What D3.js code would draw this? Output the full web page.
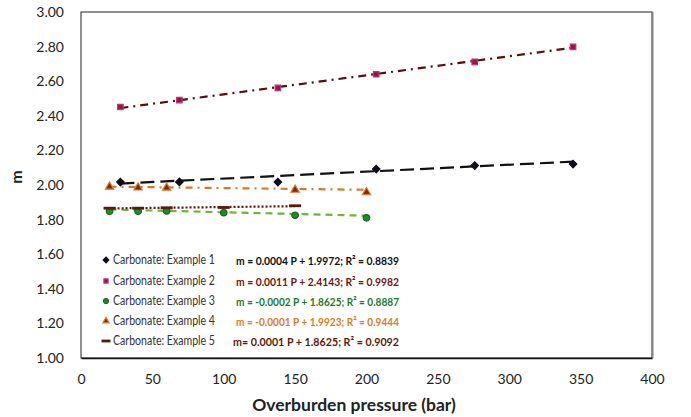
<!DOCTYPE html>
<html>
<head>
<meta charset="utf-8">
<script src="https://cdn.jsdelivr.net/npm/d3@7"></script>
<style>
	body { margin: 0; background: white; }
	text { font-family: Lato, "Open Sans", sans-serif; }
</style>
</head>
<body>
<div id="chart"></div>
<script>
	// values
	const seriesNames = ["Carbonate: Example 1", "Carbonate: Example 2", "Carbonate: Example 3", "Carbonate: Example 4", "Carbonate: Example 5"];
	const pressure1 = [27.6, 68.9, 137.9, 206.8, 275.8, 344.7];
	const m1 = [2.017, 2.018, 2.017, 2.092, 2.112, 2.121];
	const pressure2 = [27.6, 68.9, 137.9, 206.8, 275.8, 344.7];
	const m2 = [2.451, 2.491, 2.561, 2.640, 2.712, 2.798];
	const pressure3 = [20, 40, 60, 100, 150, 200];
	const m3 = [1.848, 1.848, 1.850, 1.840, 1.825, 1.810];
	const pressure4 = [20, 40, 60, 150, 200];
	const m4 = [1.990, 1.985, 1.984, 1.972, 1.958];
	const pressure5 = [20, 40, 60, 100, 150];
	const m5 = [1.866, 1.866, 1.868, 1.870, 1.880];
	const slopes = [0.0004, 0.0011, -0.0002, -0.0001, 0.0001];
	const intercepts = [1.9972, 2.4143, 1.8625, 1.9923, 1.8625];
	const equations = [
		"m = 0.0004 P + 1.9972; R\u00b2 = 0.8839",
		"m = 0.0011 P + 2.4143; R\u00b2 = 0.9982",
		"m = -0.0002 P + 1.8625; R\u00b2 = 0.8887",
		"m = -0.0001 P + 1.9923; R\u00b2 = 0.9444",
		"m= 0.0001 P + 1.8625; R\u00b2 = 0.9092"
	];
	const xTicks = [0, 50, 100, 150, 200, 250, 300, 350, 400];
	const yTicks = [1.0, 1.2, 1.4, 1.6, 1.8, 2.0, 2.2, 2.4, 2.6, 2.8, 3.0];

	const pressures = [pressure1, pressure2, pressure3, pressure4, pressure5];
	const ms = [m1, m2, m3, m4, m5];

	const styles = [
		{ marker: "diamond", fill: "#0d0d1f", stroke: "#0d0d1f", line: "#111111", dash: "14,6", eq: "#111111" },
		{ marker: "square", fill: "#8c1c3c", stroke: "#c2307e", line: "#5a0c0c", dash: "8,5,2,5", eq: "#6e1414" },
		{ marker: "circle", fill: "#1e8a2a", stroke: "#176a20", line: "#6fb43c", dash: "7,5", eq: "#1f7a2a" },
		{ marker: "triangle", fill: "#7a2a08", stroke: "#e07b28", line: "#d9782d", dash: "7,5,2,5", eq: "#e07b28" },
		{ marker: "dash", fill: "#5a1a0a", stroke: "#5a1a0a", line: "#5a1a0a", dash: "2,2", eq: "#5a1a0a" }
	];
	const eqWidths = [163, 163, 163, 163, 166];

	const width = 691, height = 417;
	const margin = { top: 12, right: 39, bottom: 59, left: 81 };
	const innerW = width - margin.left - margin.right,
		innerH = height - margin.top - margin.bottom;

	const svg = d3.select("#chart")
		.append("svg")
		.attr("width", width)
		.attr("height", height);

	const x = d3.scaleLinear().domain([0, 400]).range([0, innerW]);
	const y = d3.scaleLinear().domain([1, 3]).range([innerH, 0]);

	const g = svg.append("g")
		.attr("transform", `translate(${margin.left},${margin.top})`);

	// plot area frame
	g.append("rect")
		.attr("width", innerW)
		.attr("height", innerH)
		.attr("fill", "white")
		.attr("stroke", "#222")
		.attr("stroke-width", 1);
	g.append("line")
		.attr("x1", innerW + 0.5).attr("x2", innerW + 0.5)
		.attr("y1", 0).attr("y2", innerH)
		.attr("stroke", "#888")
		.attr("stroke-width", 2);

	const xAxis = g.append("g")
		.attr("transform", `translate(0,${innerH})`)
		.call(d3.axisBottom(x).tickValues(xTicks).tickSize(0).tickPadding(16).tickFormat(d3.format("d")));
	xAxis.select(".domain").attr("stroke", "#111").attr("stroke-width", 1.5);
	xAxis.selectAll("text").attr("font-size", 14).attr("fill", "#222").style("font-family", "Lato, sans-serif");

	const yAxis = g.append("g")
		.call(d3.axisLeft(y).tickValues(yTicks).tickSize(0).tickPadding(17).tickFormat(d3.format(".2f")));
	yAxis.select(".domain").remove();
	yAxis.selectAll("text").attr("font-size", 14).attr("fill", "#222").style("font-family", "Lato, sans-serif");

	svg.append("text")
		.attr("x", 354)
		.attr("y", 411)
		.attr("text-anchor", "middle")
		.attr("font-size", 17.5)
		.attr("font-weight", "bold")
		.attr("fill", "#222")
		.text("Overburden pressure (bar)");

	svg.append("text")
		.attr("transform", "translate(22,177) rotate(-90)")
		.attr("text-anchor", "middle")
		.attr("font-size", 16)
		.attr("font-weight", "bold")
		.attr("fill", "#222")
		.text("m");

	function drawMarker(sel, type, st, k) {
		if (type == "dash") {
			sel.append("rect")
				.attr("x", -6 * k).attr("y", -1.4)
				.attr("width", 12 * k).attr("height", 2.8)
				.attr("fill", st.fill);
			return;
		}
		let path;
		if (type == "diamond") path = d3.symbol().type(d3.symbolSquare).size(28 * k * k);
		if (type == "square") path = d3.symbol().type(d3.symbolSquare).size(30 * k * k);
		if (type == "circle") path = d3.symbol().type(d3.symbolCircle).size(34 * k * k);
		if (type == "triangle") path = d3.symbol().type(d3.symbolTriangle).size(30 * k * k);
		sel.append("path")
			.attr("d", path)
			.attr("transform", type == "diamond" ? "rotate(45)" : null)
			.attr("fill", st.fill)
			.attr("stroke", st.stroke)
			.attr("stroke-width", 1.2);
	}

	// trendlines
	for (let i = 0; i < 5; i++) {
		const ext = d3.extent(pressures[i]);
		g.append("line")
			.attr("x1", x(ext[0]))
			.attr("x2", x(ext[1]))
			.attr("y1", y(slopes[i] * ext[0] + intercepts[i]))
			.attr("y2", y(slopes[i] * ext[1] + intercepts[i]))
			.attr("stroke", styles[i].line)
			.attr("stroke-width", 2.2)
			.attr("stroke-dasharray", styles[i].dash);
	}

	// points
	for (let i = 0; i < 5; i++) {
		pressures[i].forEach((p, j) => {
			const mk = g.append("g")
				.attr("transform", `translate(${x(p)},${y(ms[i][j])})`);
			drawMarker(mk, styles[i].marker, styles[i], 1);
		});
	}

	// legend with equations
	const legendY = [260, 281, 301, 321, 341];
	for (let i = 0; i < 5; i++) {
		const mk = svg.append("g")
			.attr("transform", `translate(106,${legendY[i]})`);
		drawMarker(mk, styles[i].marker, styles[i], 0.75);

		svg.append("text")
			.attr("x", 113)
			.attr("y", legendY[i])
			.attr("dy", "0.35em")
			.attr("font-size", 12.5)
			.attr("textLength", 102)
			.attr("lengthAdjust", "spacingAndGlyphs")
			.attr("fill", "#333")
			.text(seriesNames[i]);

		svg.append("text")
			.attr("x", i == 4 ? 233 : 236)
			.attr("y", legendY[i] + 1)
			.attr("dy", "0.35em")
			.attr("font-size", 12)
			.attr("font-weight", "bold")
			.attr("textLength", eqWidths[i])
			.attr("lengthAdjust", "spacingAndGlyphs")
			.attr("fill", styles[i].eq)
			.text(equations[i]);
	}
</script>
</body>
</html>
